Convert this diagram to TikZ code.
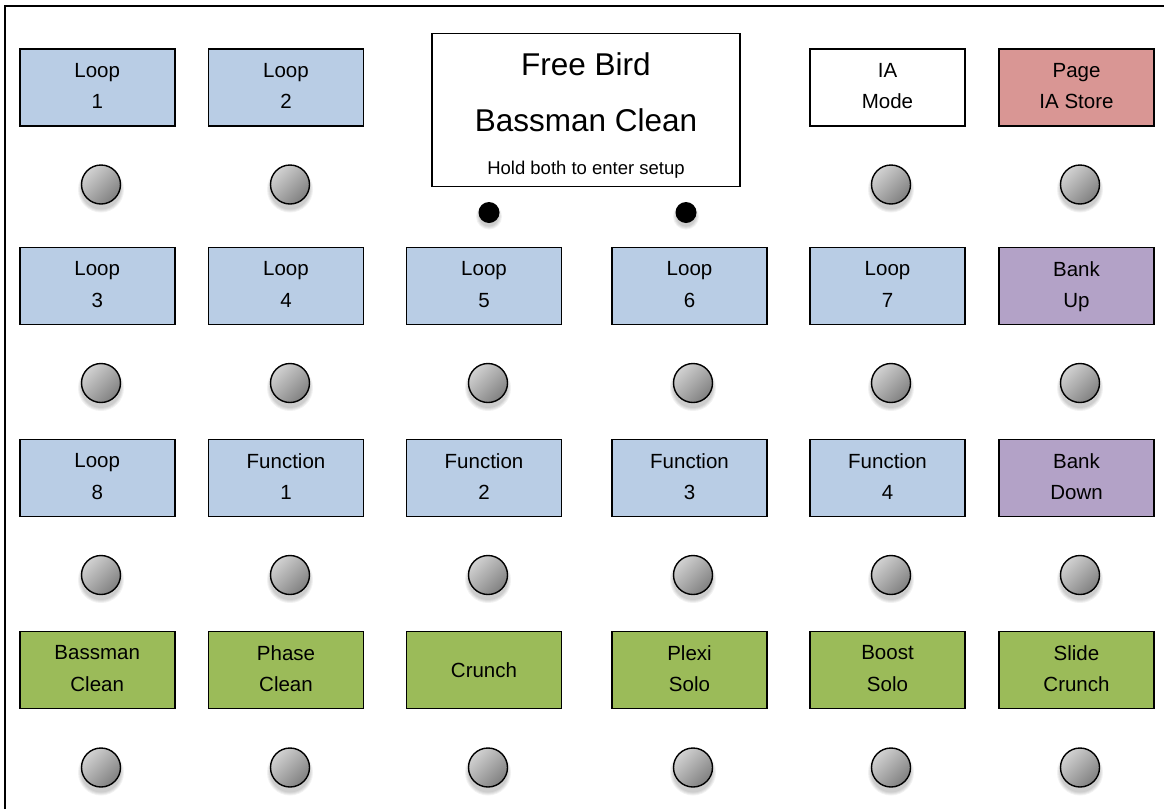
\documentclass[tikz,border=0pt]{standalone}
\usepackage{fontspec}
\setmainfont{Liberation Sans}
\definecolor{loopblue}{RGB}{185,205,229}
\definecolor{pagered}{RGB}{217,150,148}
\definecolor{bankpurple}{RGB}{179,162,199}
\definecolor{presetgreen}{RGB}{155,187,89}
\definecolor{knoblight}{RGB}{210,210,210}
\definecolor{knobdark}{RGB}{128,128,128}
\tikzset{
  btnbox/.style={draw=black, line width=1.6pt, rectangle, minimum width=155pt, minimum height=77pt, inner sep=0pt, align=center, text depth=3pt, font=\fontsize{20.5}{31.5}\selectfont},
  knob/.style={circle, draw=black, line width=1.4pt, minimum size=39pt, inner sep=0pt, top color=knoblight, bottom color=knobdark, shading angle=45},
  dotbtn/.style={circle, fill=black, minimum size=21pt, inner sep=0pt},
  shadowring/.style={fill=black, opacity=0.05},
  frame/.style={draw=black, line width=2pt}
}
\begin{document}
\begin{tikzpicture}[x=1pt,y=-1pt]
\useasboundingbox (0,0) rectangle (1164,809);
\fill[white] (0,0) rectangle (1164,809);
% outer frame
\coordinate (fbl) at (5,809);
\coordinate (ftl) at (5,6);
\coordinate (ftr) at (1164,6);
\draw[frame] (fbl) -- (ftl) -- (ftr);

% display
\node[draw=black, line width=1.6pt, minimum width=308pt, minimum height=153pt, inner sep=0pt] (disp) at (586,109.8) {};
\node[font=\fontsize{31.5}{36}\selectfont] (dispa) at (586,64) {Free Bird};
\node[font=\fontsize{31.5}{36}\selectfont] (dispb) at (586,120) {Bassman Clean};
\node[font=\fontsize{18.5}{20}\selectfont] (dispc) at (586,170) {Hold both to enter setup};

% dot buttons
\foreach \n/\x in {da/489, db/686}{
  \foreach \r in {13,12,11,10}{\fill[shadowring] (\x,216.5) circle (\r pt);}
  \node[dotbtn] (\n) at (\x,212.5) {};
}

% boxes row 1
\node[btnbox, fill=loopblue] (b11) at (97.2,87.5) {Loop\\1};
\node[btnbox, fill=loopblue] (b12) at (286,87.5) {Loop\\2};
\node[btnbox, fill=white] (b15) at (887.5,87.5) {IA\\Mode};
\node[btnbox, fill=pagered] (b16) at (1076.5,87.5) {Page\\IA Store};
% row 2
\node[btnbox, fill=loopblue] (b21) at (97.2,286) {Loop\\3};
\node[btnbox, fill=loopblue] (b22) at (286,286) {Loop\\4};
\node[btnbox, fill=loopblue] (b23) at (484,286) {Loop\\5};
\node[btnbox, fill=loopblue] (b24) at (689.5,286) {Loop\\6};
\node[btnbox, fill=loopblue] (b25) at (887.5,286) {Loop\\7};
\node[btnbox, fill=bankpurple] (b26) at (1076.5,286) {Bank\\Up};
% row 3
\node[btnbox, fill=loopblue] (b31) at (97.2,478) {Loop\\8};
\node[btnbox, fill=loopblue] (b32) at (286,478) {Function\\1};
\node[btnbox, fill=loopblue] (b33) at (484,478) {Function\\2};
\node[btnbox, fill=loopblue] (b34) at (689.5,478) {Function\\3};
\node[btnbox, fill=loopblue] (b35) at (887.5,478) {Function\\4};
\node[btnbox, fill=bankpurple] (b36) at (1076.5,478) {Bank\\Down};
% row 4
\node[btnbox, fill=presetgreen] (b41) at (97.2,670) {Bassman\\Clean};
\node[btnbox, fill=presetgreen] (b42) at (286,670) {Phase\\Clean};
\node[btnbox, fill=presetgreen, text depth=0pt] (b43) at (484,670) {Crunch};
\node[btnbox, fill=presetgreen] (b44) at (689.5,670) {Plexi\\Solo};
\node[btnbox, fill=presetgreen] (b45) at (887.5,670) {Boost\\Solo};
\node[btnbox, fill=presetgreen] (b46) at (1076.5,670) {Slide\\Crunch};

% knobs
\foreach \row/\y in {1/184.5, 2/383, 3/575, 4/767.5}{
  \foreach \col/\x in {1/101, 2/290, 3/488, 4/693, 5/891, 6/1080}{
    \ifnum\row=1 \ifnum\col=3 \else\ifnum\col=4 \else
      \foreach \r in {23,22,21,20}{\fill[shadowring] (\x,\y+5) circle (\r pt);}
      \node[knob] (k\row\col) at (\x,\y) {};
    \fi\fi
    \else
      \foreach \r in {23,22,21,20}{\fill[shadowring] (\x,\y+5) circle (\r pt);}
      \node[knob] (k\row\col) at (\x,\y) {};
    \fi
  }
}
\end{tikzpicture}
\end{document}
